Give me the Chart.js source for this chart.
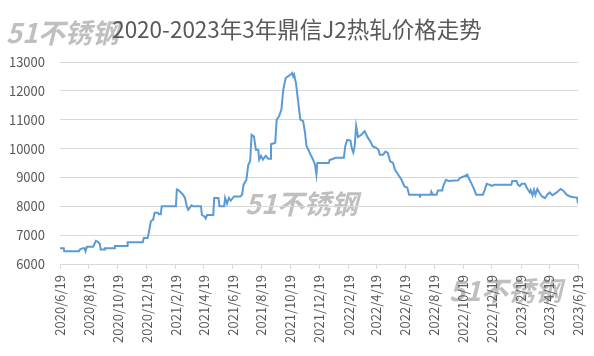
<!DOCTYPE html>
<html>
<head>
<meta charset="utf-8">
<script src="https://cdn.jsdelivr.net/npm/chart.js@4"></script>
<style>
  html, body { margin: 0; padding: 0; background: #fff; }
  #c { display: block; }
</style>
</head>
<body>
<canvas id="c" width="594" height="356"></canvas>
<script>
const titleText = '2020-2023年3年鼎信J2热轧价格走势';
const watermarkText = '51不锈钢';

const tickLabels = ['2020/6/19','2020/8/19','2020/10/19','2020/12/19','2021/2/19','2021/4/19','2021/6/19','2021/8/19','2021/10/19','2021/12/19','2022/2/19','2022/4/19','2022/6/19','2022/8/19','2022/10/19','2022/12/19','2023/2/19','2023/4/19','2023/6/19'];

const dates = [
 '2020/6/19','2020/6/27','2020/6/28','2020/7/29','2020/7/31','2020/8/6','2020/8/10','2020/8/12','2020/8/15','2020/8/28',
 '2020/8/31','2020/9/3','2020/9/7','2020/9/11','2020/9/13','2020/9/21','2020/9/22','2020/10/12','2020/10/13','2020/11/8',
 '2020/11/9','2020/12/11','2020/12/13','2020/12/21','2020/12/24','2020/12/28','2021/1/2','2021/1/5','2021/1/12','2021/1/14',
 '2021/1/18','2021/1/20','2021/2/19','2021/2/21','2021/2/25','2021/3/6','2021/3/10','2021/3/14','2021/3/17','2021/3/24',
 '2021/3/27','2021/4/13','2021/4/15','2021/4/21','2021/4/23','2021/4/26','2021/5/9','2021/5/11','2021/5/20','2021/5/22',
 '2021/6/1','2021/6/3','2021/6/7','2021/6/11','2021/6/15','2021/6/22','2021/7/5','2021/7/9','2021/7/12','2021/7/18',
 '2021/7/22','2021/7/26','2021/7/29','2021/8/3','2021/8/7','2021/8/12','2021/8/14','2021/8/18','2021/8/22','2021/8/28',
 '2021/9/2','2021/9/6','2021/9/8','2021/9/17','2021/9/20','2021/9/25','2021/9/30','2021/10/4','2021/10/9','2021/10/14',
 '2021/10/19','2021/10/23','2021/10/25','2021/10/27','2021/10/31','2021/11/4','2021/11/9','2021/11/15','2021/11/19','2021/11/22',
 '2021/11/26','2021/12/1','2021/12/6','2021/12/10','2021/12/13','2021/12/15','2022/1/8','2022/1/10','2022/1/23','2022/2/9',
 '2022/2/12','2022/2/16','2022/2/23','2022/2/26','2022/3/1','2022/3/4','2022/3/7','2022/3/11','2022/3/18','2022/3/25',
 '2022/4/1','2022/4/6','2022/4/11','2022/4/19','2022/4/23','2022/4/26','2022/5/3','2022/5/8','2022/5/13','2022/5/18',
 '2022/5/24','2022/5/28','2022/6/4','2022/6/11','2022/6/17','2022/6/23','2022/6/27','2022/7/19','2022/7/20','2022/7/21',
 '2022/8/12','2022/8/13','2022/8/16','2022/8/24','2022/8/27','2022/9/5','2022/9/7','2022/9/13','2022/9/18','2022/10/9',
 '2022/10/12','2022/10/23','2022/10/28','2022/10/31','2022/11/7','2022/11/11','2022/11/16','2022/11/30','2022/12/4','2022/12/8',
 '2022/12/13','2022/12/19','2022/12/25','2023/1/29','2023/1/31','2023/2/9','2023/2/12','2023/2/16','2023/2/20','2023/2/27',
 '2023/3/3','2023/3/9','2023/3/11','2023/3/15','2023/3/18','2023/3/21','2023/3/25','2023/3/30','2023/4/4','2023/4/10',
 '2023/4/15','2023/4/20','2023/4/26','2023/5/5','2023/5/13','2023/5/19','2023/5/26','2023/6/2','2023/6/10','2023/6/17',
 '2023/6/19'
];

const prices = [
 6550,6550,6440,6440,6500,6550,6550,6440,6600,6600,
 6700,6800,6770,6700,6500,6500,6550,6550,6620,6620,
 6750,6750,6900,6900,7100,7480,7540,7780,7780,7720,
 7720,8000,8000,8580,8550,8400,8300,8000,7880,8030,
 8000,8000,7700,7640,7580,7700,7700,8290,8290,8000,
 8000,8290,8090,8290,8200,8340,8340,8400,8750,8920,
 9440,9560,10480,10420,9960,9960,9615,9750,9615,9750,
 9650,9650,10150,10200,11000,11115,11350,12040,12445,12500,
 12560,12620,12500,12560,12250,11690,11000,10950,10540,10080,
 9960,9780,9615,9440,9100,9500,9500,9600,9680,9680,
 10080,10300,10280,10000,9860,10100,10780,10400,10480,10600,
 10370,10250,10080,10020,9960,9790,9790,9900,9850,9560,
 9500,9270,9095,8920,8690,8650,8400,8400,8300,8400,
 8400,8500,8400,8400,8550,8550,8700,8920,8880,8900,
 8980,9050,9095,8980,8750,8600,8400,8400,8580,8780,
 8750,8710,8750,8750,8880,8880,8750,8700,8780,8780,
 8630,8480,8560,8380,8570,8400,8600,8450,8340,8280,
 8400,8480,8380,8480,8600,8540,8400,8340,8310,8300,
 8100
];

const yMin = 6000, yMax = 13000, yStep = 1000;

function dayNum(s) {
  const p = s.split('/').map(Number);
  return Math.round(Date.UTC(p[0], p[1] - 1, p[2]) / 86400000);
}
const base = dayNum(tickLabels[0]);
const points = dates.map((d, i) => ({ x: dayNum(d) - base, y: prices[i] }));

const FONT = '"Noto Sans CJK SC", "Noto Sans", sans-serif';
const GRAY = '#595959';
const GRID = '#d9d9d9';

const bgPlugin = {
  id: 'bgAndMark',
  beforeDraw(chart) {
    const ctx = chart.ctx;
    ctx.save();
    ctx.fillStyle = '#ffffff';
    ctx.fillRect(0, 0, chart.width, chart.height);
    ctx.fillStyle = 'rgba(128,128,128,0.5)';
    ctx.font = 'italic bold 27px ' + FONT;
    ctx.textBaseline = 'middle';
    ctx.textAlign = 'left';
    [[6, 33], [245, 204], [449, 291]].forEach(p => ctx.fillText(watermarkText, p[0], p[1]));
    ctx.restore();
  }
};

new Chart(document.getElementById('c'), {
  type: 'line',
  data: {
    datasets: [{
      data: points,
      borderColor: '#5B9BD5',
      borderWidth: 2,
      pointRadius: 0,
      pointHoverRadius: 0,
      tension: 0,
      fill: false
    }]
  },
  options: {
    responsive: false,
    animation: false,
    events: [],
    layout: { padding: 0 },
    plugins: {
      legend: { display: false },
      tooltip: { enabled: false },
      title: {
        display: true,
        text: titleText,
        color: GRAY,
        font: { family: FONT, size: 22.5, weight: 'normal', lineHeight: 1.2 },
        padding: { top: 16, bottom: 19 }
      }
    },
    scales: {
      x: {
        type: 'linear',
        min: 0,
        max: dayNum(tickLabels[tickLabels.length - 1]) - base,
        afterBuildTicks(scale) {
          scale.ticks = tickLabels.map(t => ({ value: dayNum(t) - base }));
        },
        afterFit(scale) { scale.height = 92; scale.paddingRight = 16; },
        ticks: {
          autoSkip: false,
          minRotation: 90,
          maxRotation: 90,
          padding: 6,
          color: GRAY,
          font: { family: FONT, size: 13 },
          callback: (v, i) => tickLabels[i]
        },
        grid: { drawOnChartArea: false, drawTicks: true, tickLength: 5, color: GRID },
        border: { display: true, color: GRID, width: 1 }
      },
      y: {
        min: yMin,
        max: yMax,
        afterFit(scale) { scale.width = 60; },
        ticks: {
          stepSize: yStep,
          padding: 15,
          color: GRAY,
          font: { family: FONT, size: 13 },
          callback: v => String(v)
        },
        grid: { color: GRID, drawTicks: false, lineWidth: 1 },
        border: { display: false }
      }
    }
  },
  plugins: [bgPlugin]
});
</script>
</body>
</html>
